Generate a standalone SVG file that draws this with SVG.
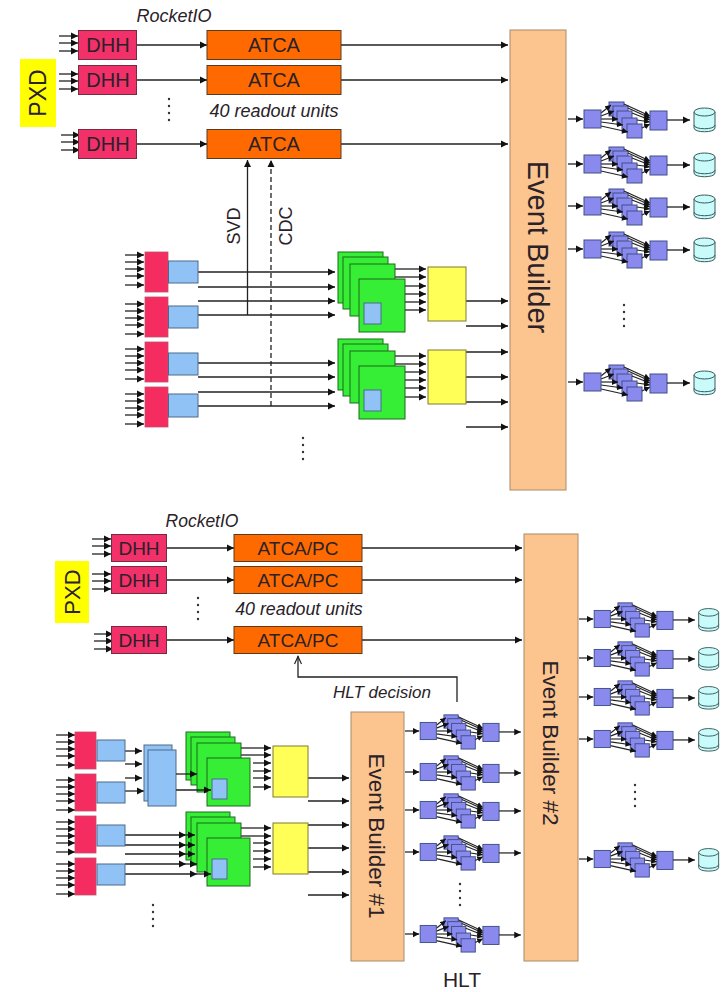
<svg xmlns="http://www.w3.org/2000/svg" width="723" height="992" viewBox="0 0 723 992">
<style>
text{font-family:"Liberation Sans",Arial,sans-serif;fill:#2a2228}
.c{text-anchor:middle}
.i{font-style:italic}
.l{stroke:#222;stroke-width:1.3;fill:none}
.a{stroke:#222;stroke-width:1.3;fill:none;marker-end:url(#ah)}
.s{stroke:#222;stroke-width:1.2;fill:none;marker-end:url(#sh)}
.pxd{fill:#ffff00}
.dhh{fill:#f2306a;stroke:#7a2a40;stroke-width:1}
.atca{fill:#ff6a00;stroke:#5a3a20;stroke-width:1}
.red{fill:#f42c60;stroke:#c05070;stroke-width:.8}
.blue{fill:#90c2f6;stroke:#4a6a8a;stroke-width:1}
.green{fill:#35ee35;stroke:#1c6a1c;stroke-width:1}
.yel{fill:#ffff58;stroke:#807a30;stroke-width:1}
.eb{fill:#fcc590;stroke:#a98a68;stroke-width:1}
.pur{fill:#8a8aee;stroke:#3f4f88;stroke-width:1}
.cyl{fill:#c9fbfb;stroke:#3a5a5a;stroke-width:1}
.dot{fill:#333}
</style>
<defs>
<marker id="ah" markerUnits="userSpaceOnUse" markerWidth="8" markerHeight="8" refX="7" refY="4" orient="auto"><path d="M0 .5L7 4L0 7.5Z" fill="#111"/></marker>
<marker id="sh" markerUnits="userSpaceOnUse" markerWidth="7" markerHeight="7" refX="6" refY="3.5" orient="auto"><path d="M0 .5L6 3.5L0 6.5Z" fill="#111"/></marker>
<marker id="oh" markerUnits="userSpaceOnUse" markerWidth="10" markerHeight="8" refX="9" refY="4" orient="auto"><path d="M1 .5L8.500 4L1 7.500" fill="none" stroke="#222" stroke-width="1.200"/></marker>
<g id="in3"><line class="a" x1="0" y1="0" x2="19" y2="0"/><line class="a" x1="0" y1="7" x2="19" y2="7"/><line class="a" x1="0" y1="15" x2="19" y2="15"/></g>
<g id="in5"><line class="a" x1="0" y1="0" x2="19" y2="0"/><line class="a" x1="0" y1="7" x2="19" y2="7"/><line class="a" x1="0" y1="14" x2="19" y2="14"/><line class="a" x1="0" y1="21" x2="19" y2="21"/><line class="a" x1="0" y1="30" x2="19" y2="30"/></g>
<g id="dots"><circle class="dot" cx="0" cy="0" r="1.200"/><circle class="dot" cx="0" cy="7" r="1.200"/><circle class="dot" cx="0" cy="14" r="1.200"/><circle class="dot" cx="0" cy="21" r="1.200"/></g>
<g id="gstack1"><rect class="green" x="338" y="252" width="45" height="51"/><rect class="green" x="343" y="257" width="45" height="52"/><rect class="green" x="350" y="264" width="45" height="52"/><rect class="green" x="359" y="279" width="46" height="53"/><rect class="blue" x="364" y="303" width="17" height="21"/></g>
<g id="gstack2"><rect class="green" x="186" y="732" width="44" height="48"/><rect class="green" x="191" y="737" width="44" height="48"/><rect class="green" x="197" y="743" width="44" height="49"/><rect class="green" x="207" y="758" width="43" height="48"/><rect class="blue" x="212" y="779" width="15" height="20"/></g>
<g id="hltcore">
<line class="a" x1="0" y1="0" x2="15" y2="0"/>
<rect class="pur" x="41" y="-17" width="15" height="14"/><rect class="pur" x="45" y="-13" width="15" height="14"/><rect class="pur" x="49" y="-8" width="15" height="14"/><rect class="pur" x="54" y="-1" width="15" height="14"/><rect class="pur" x="59" y="5" width="15" height="14"/>
<line class="s" x1="33" y1="-6" x2="43" y2="-14"/><line class="s" x1="33" y1="-3" x2="46" y2="-8"/><line class="s" x1="33" y1="0" x2="50" y2="0"/><line class="s" x1="33" y1="3" x2="55" y2="6"/><line class="s" x1="33" y1="7" x2="60" y2="13"/>
<line class="s" x1="56" y1="-15" x2="82" y2="-3"/><line class="s" x1="60" y1="-11" x2="82" y2="-1"/><line class="s" x1="64" y1="-6" x2="82" y2="1"/><line class="s" x1="69" y1="1" x2="82" y2="3"/><line class="s" x1="74" y1="9" x2="82" y2="5"/>
<rect class="pur" x="16" y="-9" width="17" height="18"/>
<rect class="pur" x="82" y="-8" width="17" height="19"/>
<line class="a" x1="99" y1="1" x2="122" y2="1"/>
</g>
<g id="hlt"><use href="#hltcore"/>
<path class="cyl" d="M126 -7V9C126 14 147 14 147 9V-7"/><ellipse class="cyl" cx="136.500" cy="-7" rx="10.500" ry="4"/><path class="cyl" style="fill:none" d="M126 6C126 11 147 11 147 6"/>
</g>
</defs>

<g id="connectors">
<use href="#in3" x="59" y="36"/><use href="#in3" x="59" y="74"/><use href="#in3" x="61" y="135"/>
<line class="a" x1="137" y1="45" x2="207" y2="45"/><line class="a" x1="137" y1="80" x2="207" y2="80"/><line class="a" x1="137" y1="144" x2="207" y2="144"/>
<line class="a" x1="341" y1="45" x2="508" y2="45"/><line class="a" x1="341" y1="80" x2="508" y2="80"/><line class="a" x1="341" y1="144" x2="508" y2="144"/>
<line class="a" x1="247.500" y1="315" x2="247.500" y2="160"/>
<line class="a" x1="271" y1="406" x2="271" y2="160" stroke-dasharray="5 3"/>
<use href="#in5" x="125" y="255"/><use href="#in5" x="125" y="304"/><use href="#in5" x="125" y="349"/><use href="#in5" x="125" y="394"/>
<line class="a" x1="198" y1="272" x2="335" y2="272"/><line class="a" x1="198" y1="287" x2="335" y2="287"/><line class="a" x1="198" y1="301" x2="335" y2="301"/><line class="a" x1="198" y1="315" x2="335" y2="315"/>
<line class="a" x1="198" y1="363" x2="335" y2="363"/><line class="a" x1="198" y1="377" x2="335" y2="377"/><line class="a" x1="198" y1="392" x2="335" y2="392"/><line class="a" x1="198" y1="406" x2="335" y2="406"/>
<line class="a" x1="395" y1="269" x2="426" y2="269"/><line class="a" x1="395" y1="277" x2="426" y2="277"/><line class="a" x1="405" y1="286" x2="426" y2="286"/><line class="a" x1="405" y1="294" x2="426" y2="294"/><line class="a" x1="405" y1="302" x2="426" y2="302"/><line class="a" x1="405" y1="310" x2="426" y2="310"/>
<line class="a" x1="395" y1="356" x2="426" y2="356"/><line class="a" x1="395" y1="364" x2="426" y2="364"/><line class="a" x1="405" y1="372" x2="426" y2="372"/><line class="a" x1="405" y1="380" x2="426" y2="380"/><line class="a" x1="405" y1="388" x2="426" y2="388"/><line class="a" x1="405" y1="397" x2="426" y2="397"/>
<line class="a" x1="466" y1="301" x2="508" y2="301"/><line class="a" x1="466" y1="326" x2="508" y2="326"/><line class="a" x1="466" y1="352" x2="508" y2="352"/><line class="a" x1="466" y1="377" x2="508" y2="377"/><line class="a" x1="466" y1="402" x2="508" y2="402"/><line class="a" x1="466" y1="427" x2="508" y2="427"/>
<use href="#in3" x="92" y="539"/><use href="#in3" x="92" y="574"/><use href="#in3" x="94" y="634"/>
<line class="a" x1="167" y1="548" x2="234" y2="548"/><line class="a" x1="167" y1="580" x2="234" y2="580"/><line class="a" x1="167" y1="640" x2="234" y2="640"/>
<line class="a" x1="362" y1="548" x2="522" y2="548"/><line class="a" x1="362" y1="580" x2="522" y2="580"/><line class="a" x1="362" y1="640" x2="522" y2="640"/>
<path class="l" d="M457 702V677H298V656" marker-end="url(#oh)"/>
<use href="#in5" x="56" y="735"/><use href="#in5" x="56" y="780"/><use href="#in5" x="56" y="822"/><use href="#in5" x="56" y="864"/>
<line class="a" x1="125" y1="751" x2="142" y2="751"/><line class="a" x1="125" y1="764" x2="142" y2="764"/><line class="a" x1="125" y1="778" x2="142" y2="778"/><line class="a" x1="125" y1="791" x2="144" y2="791"/>
<line class="a" x1="125" y1="835" x2="186" y2="835"/><line class="a" x1="125" y1="845" x2="186" y2="845"/><line class="a" x1="125" y1="854" x2="186" y2="854"/><line class="a" x1="125" y1="864" x2="186" y2="864"/><line class="a" x1="125" y1="874" x2="197" y2="874"/>
<line class="a" x1="241" y1="748" x2="271" y2="748"/><line class="a" x1="241" y1="755" x2="271" y2="755"/><line class="a" x1="253" y1="763" x2="271" y2="763"/><line class="a" x1="253" y1="771" x2="271" y2="771"/><line class="a" x1="253" y1="778" x2="271" y2="778"/><line class="a" x1="253" y1="787" x2="271" y2="787"/>
<line class="a" x1="241" y1="828" x2="271" y2="828"/><line class="a" x1="241" y1="836" x2="271" y2="836"/><line class="a" x1="253" y1="843" x2="271" y2="843"/><line class="a" x1="253" y1="851" x2="271" y2="851"/><line class="a" x1="253" y1="859" x2="271" y2="859"/><line class="a" x1="253" y1="867" x2="271" y2="867"/>
<line class="a" x1="308" y1="778" x2="349" y2="778"/><line class="a" x1="308" y1="801" x2="349" y2="801"/><line class="a" x1="308" y1="825" x2="349" y2="825"/><line class="a" x1="308" y1="848" x2="349" y2="848"/><line class="a" x1="308" y1="872" x2="349" y2="872"/><line class="a" x1="308" y1="895" x2="349" y2="895"/>
</g>

<g id="pxd-top"><rect class="pxd" x="20" y="59" width="36" height="68"/><text class="c" transform="translate(46 93) rotate(-90)" font-size="23">PXD</text></g>
<g id="dhh-t1"><rect class="dhh" x="78.500" y="30.500" width="58" height="29"/><text class="c" x="108" y="52" font-size="20">DHH</text></g>
<g id="dhh-t2"><rect class="dhh" x="78.500" y="65.500" width="58" height="29"/><text class="c" x="108" y="87" font-size="20">DHH</text></g>
<g id="dhh-t3"><rect class="dhh" x="78.500" y="129.500" width="58" height="29"/><text class="c" x="108" y="151" font-size="20">DHH</text></g>
<g id="atca-t1"><rect class="atca" x="207" y="30.500" width="134" height="29"/><text class="c" x="274" y="52" font-size="20">ATCA</text></g>
<g id="atca-t2"><rect class="atca" x="207" y="65.500" width="134" height="29"/><text class="c" x="274" y="87" font-size="20">ATCA</text></g>
<g id="atca-t3"><rect class="atca" x="207" y="129.500" width="134" height="29"/><text class="c" x="274" y="151" font-size="20">ATCA</text></g>
<text class="c i" x="174" y="22" font-size="18">RocketIO</text>
<text class="c i" x="274" y="117" font-size="18">40 readout units</text>
<text class="c" transform="translate(240 226) rotate(-90)" font-size="18">SVD</text>
<text class="c" transform="translate(292 226) rotate(-90)" font-size="18">CDC</text>
<use href="#dots" x="169" y="99"/><use href="#dots" x="303" y="438"/><use href="#dots" x="624" y="305"/>

<g id="eb-top"><rect class="eb" x="510" y="30" width="56" height="460"/><text class="c" transform="translate(528 247) rotate(90)" font-size="29">Event Builder</text></g>

<g id="fe-top">
<rect class="red" x="145" y="252" width="23" height="40"/><rect class="red" x="145" y="297" width="23" height="40"/><rect class="red" x="145" y="342" width="23" height="40"/><rect class="red" x="145" y="387" width="23" height="40"/>
<rect class="blue" x="168.500" y="261" width="29.500" height="22"/><rect class="blue" x="168.500" y="306" width="29.500" height="22"/><rect class="blue" x="168.500" y="353" width="29.500" height="22"/><rect class="blue" x="168.500" y="394" width="29.500" height="23"/>
</g>
<g id="green-t1"><use href="#gstack1"/></g>
<g id="green-t2"><use href="#gstack1" y="87"/></g>
<g id="yellow-t1"><rect class="yel" x="428" y="267" width="38" height="54"/></g>
<g id="yellow-t2"><rect class="yel" x="428" y="350" width="38" height="54"/></g>
<g id="hlt-top">
<use href="#hlt" transform="translate(568 119)"/><use href="#hlt" transform="translate(568 164)"/><use href="#hlt" transform="translate(568 206)"/><use href="#hlt" transform="translate(568 249)"/><use href="#hlt" transform="translate(568 382)"/>
</g>

<g id="pxd-bot"><rect class="pxd" x="55" y="561" width="34" height="62"/><text class="c" transform="translate(80 592) rotate(-90)" font-size="22">PXD</text></g>
<g id="dhh-b1"><rect class="dhh" x="111.500" y="534.500" width="55" height="27"/><text class="c" x="139" y="555" font-size="19">DHH</text></g>
<g id="dhh-b2"><rect class="dhh" x="111.500" y="566.500" width="55" height="27"/><text class="c" x="139" y="587" font-size="19">DHH</text></g>
<g id="dhh-b3"><rect class="dhh" x="111.500" y="626.500" width="55" height="27"/><text class="c" x="139" y="647" font-size="19">DHH</text></g>
<g id="atca-b1"><rect class="atca" x="234" y="534.500" width="128" height="27"/><text class="c" x="298" y="555" font-size="19">ATCA/PC</text></g>
<g id="atca-b2"><rect class="atca" x="234" y="566.500" width="128" height="27"/><text class="c" x="298" y="587" font-size="19">ATCA/PC</text></g>
<g id="atca-b3"><rect class="atca" x="234" y="626.500" width="128" height="27"/><text class="c" x="298" y="647" font-size="19">ATCA/PC</text></g>
<text class="c i" x="202" y="527" font-size="17.500">RocketIO</text>
<text class="c i" x="299" y="615" font-size="17.800">40 readout units</text>
<text class="c i" x="382" y="698" font-size="17">HLT decision</text>
<use href="#dots" x="198" y="598"/><use href="#dots" x="153" y="905"/><use href="#dots" x="460" y="884"/><use href="#dots" x="635" y="785"/>

<g id="eb1"><rect class="eb" x="351" y="712" width="53" height="249"/><text class="c" transform="translate(369 836) rotate(90)" font-size="22.500">Event Builder #1</text></g>
<g id="eb2"><rect class="eb" x="524" y="534" width="54" height="427"/><text class="c" transform="translate(543 743) rotate(90)" font-size="22.500">Event Builder #2</text></g>

<g id="fe-bot">
<rect class="red" x="75" y="732" width="21" height="37"/><rect class="red" x="75" y="774" width="21" height="37"/><rect class="red" x="75" y="816" width="21" height="37"/><rect class="red" x="75" y="858" width="21" height="37"/>
<rect class="blue" x="97" y="740" width="28" height="21"/><rect class="blue" x="97" y="782" width="28" height="21"/><rect class="blue" x="97" y="825" width="28" height="21"/><rect class="blue" x="97" y="864" width="28" height="21"/>
<rect class="blue" x="144" y="745" width="28" height="56"/><rect class="blue" x="148" y="750" width="28" height="56"/>
</g>
<g id="green-b1"><use href="#gstack2"/><line class="a" x1="176" y1="774" x2="197" y2="774"/><line class="a" x1="176" y1="790" x2="211" y2="790"/></g>
<g id="green-b2"><use href="#gstack2" y="80"/><line class="a" x1="186" y1="835" x2="195" y2="835"/><line class="a" x1="186" y1="845" x2="195" y2="845"/><line class="a" x1="186" y1="854" x2="195" y2="854"/><line class="a" x1="186" y1="864" x2="197" y2="864"/><line class="a" x1="197" y1="874" x2="211" y2="874"/></g>
<g id="yellow-b1"><rect class="yel" x="273" y="746" width="35" height="51"/></g>
<g id="yellow-b2"><rect class="yel" x="273" y="823" width="35" height="51"/></g>
<g id="hlt-eb1">
<use href="#hltcore" transform="translate(405 731) scale(.95)"/><use href="#hltcore" transform="translate(405 772) scale(.95)"/><use href="#hltcore" transform="translate(405 810) scale(.95)"/><use href="#hltcore" transform="translate(405 852) scale(.95)"/><use href="#hltcore" transform="translate(405 934) scale(.95)"/>
</g>
<g id="hlt-eb2">
<use href="#hlt" transform="translate(579 619) scale(.95)"/><use href="#hlt" transform="translate(579 658) scale(.95)"/><use href="#hlt" transform="translate(579 697) scale(.95)"/><use href="#hlt" transform="translate(579 739) scale(.95)"/><use href="#hlt" transform="translate(579 859) scale(.95)"/>
</g>
<text class="c" x="462" y="987" font-size="21">HLT</text>
</svg>
